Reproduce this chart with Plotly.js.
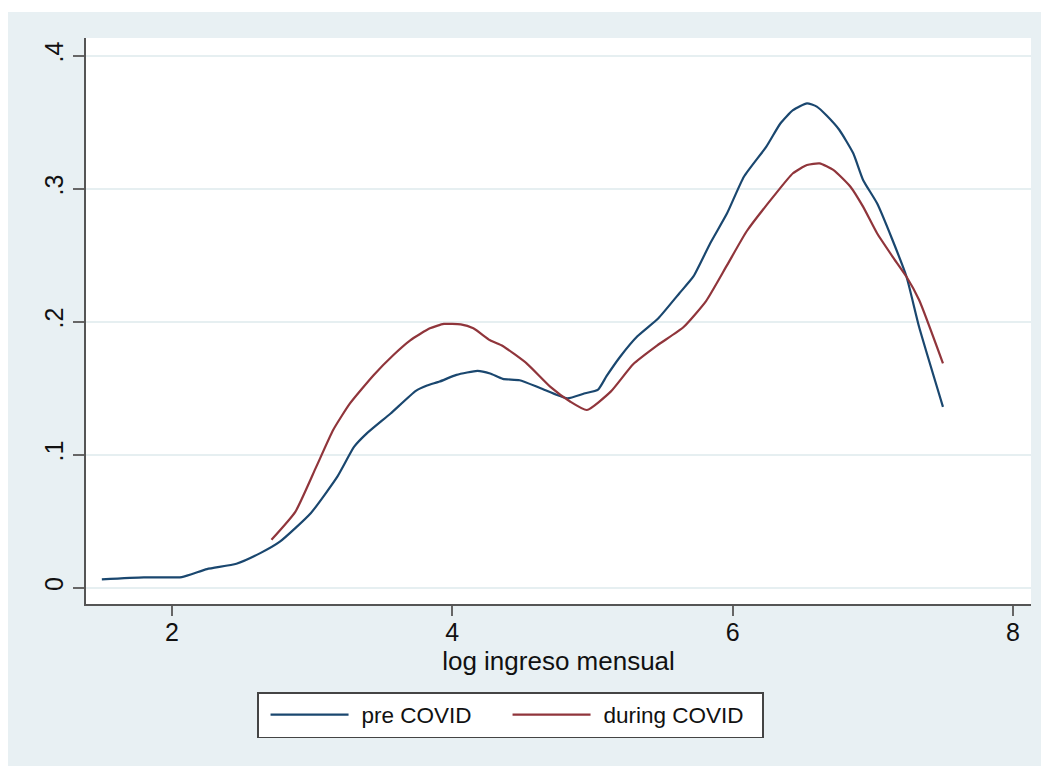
<!DOCTYPE html>
<html>
<head>
<meta charset="utf-8">
<script src="https://cdn.plot.ly/plotly-3.0.1.min.js"></script>
<style>
html,body{margin:0;padding:0;background:#ffffff;}
#wrap{position:absolute;left:8px;top:12px;width:1033px;height:754px;}
#chart{width:1033px;height:754px;}
</style>
</head>
<body>
<div id="wrap"><div id="chart"></div></div>
<script>
// pre COVID density
const preX = [1.50,1.80,2.07,2.25,2.46,2.63,2.77,2.99,3.18,3.30,3.39,3.56,3.74,3.82,3.91,4.03,4.18,4.27,4.36,4.48,4.63,4.82,4.94,5.04,5.10,5.20,5.32,5.47,5.62,5.72,5.84,5.96,6.08,6.24,6.34,6.43,6.53,6.60,6.67,6.76,6.86,6.93,7.03,7.14,7.24,7.33,7.50];
const preY = [0.0063,0.0078,0.0080,0.0140,0.0180,0.0260,0.0346,0.0560,0.0835,0.1060,0.1160,0.1310,0.1480,0.1520,0.1550,0.1600,0.1630,0.1610,0.1570,0.1560,0.1500,0.1424,0.1460,0.1490,0.1590,0.1740,0.1890,0.2026,0.2214,0.2340,0.2590,0.2815,0.3090,0.3316,0.3490,0.3590,0.3642,0.3617,0.3550,0.3443,0.3266,0.3066,0.2890,0.2614,0.2338,0.1960,0.1360];
// during COVID density
const durX = [2.71,2.88,3.03,3.15,3.27,3.44,3.58,3.70,3.84,3.94,4.06,4.15,4.27,4.36,4.53,4.70,4.84,4.96,5.13,5.29,5.46,5.65,5.81,5.96,6.10,6.29,6.43,6.53,6.62,6.72,6.84,6.93,7.03,7.14,7.24,7.33,7.50];
const durY = [0.0360,0.0570,0.0910,0.1186,0.1386,0.1600,0.1750,0.1860,0.1950,0.1983,0.1980,0.1950,0.1860,0.1817,0.1687,0.1510,0.1400,0.1336,0.1474,0.1680,0.1820,0.1960,0.2155,0.2425,0.2680,0.2940,0.3116,0.3178,0.3190,0.3140,0.3015,0.2865,0.2665,0.2490,0.2338,0.2163,0.1687];
const seriesNames = ["pre COVID","during COVID"];
const xTicks = [2,4,6,8];
const xTickText = ["2","4","6","8"];
const yTicks = [0,0.1,0.2,0.3,0.4];
const yTickText = ["0",".1",".2",".3",".4"];
const xTitle = "log ingreso mensual";

const FONT = "Liberation Sans, Arial, Helvetica, sans-serif";
const traces = [
  {x: preX, y: preY, name: seriesNames[0], type: "scatter", mode: "lines",
   line: {color: "#1a476f", width: 2.2, shape: "spline", smoothing: 0.5}},
  {x: durX, y: durY, name: seriesNames[1], type: "scatter", mode: "lines",
   line: {color: "#90353b", width: 2.2, shape: "spline", smoothing: 0.5}}
];
const layout = {
  width: 1033, height: 754,
  paper_bgcolor: "#e8f0f3",
  plot_bgcolor: "#ffffff",
  margin: {l: 78, r: 10, t: 26, b: 162},
  font: {family: FONT, color: "#111111"},
  showlegend: true,
  xaxis: {
    range: [1.387, 8.128],
    tickvals: xTicks, ticktext: xTickText,
    showgrid: false, zeroline: false,
    showline: true, linecolor: "#555555", linewidth: 2,
    ticks: "outside", ticklen: 10, tickwidth: 2, tickcolor: "#666666",
    ticklabelstandoff: -5,
    tickfont: {size: 25, family: FONT, color: "#111111"},
    title: {text: xTitle, font: {size: 26, family: FONT, color: "#111111"}, standoff: 4},
    automargin: false
  },
  yaxis: {
    range: [-0.01226, 0.4133],
    tickvals: yTicks, ticktext: yTickText,
    tickangle: -90,
    showgrid: true, gridcolor: "#e6eff1", gridwidth: 2,
    zeroline: false,
    showline: true, linecolor: "#555555", linewidth: 2,
    ticks: "outside", ticklen: 11, tickwidth: 2, tickcolor: "#666666",
    tickfont: {size: 25, family: FONT, color: "#111111"},
    automargin: false
  },
  legend: {
    orientation: "h",
    x: 0.181, xanchor: "left",
    y: -0.1555, yanchor: "top",
    bgcolor: "#ffffff",
    bordercolor: "#444444", borderwidth: 1.5,
    font: {size: 22.5, family: FONT, color: "#111111"},
    itemwidth: 93,
    entrywidth: 134,
    traceorder: "normal"
  }
};
Plotly.newPlot("chart", traces, layout, {displayModeBar: false, staticPlot: true}).then(function(gd){
  // Stata-style legend keys: long line keys, wider box
  gd.querySelectorAll('.legend .traces .legendlines path').forEach(function(p){
    p.setAttribute('d', 'M12,0h78');
  });
  var W = 505;
  var bg = gd.querySelector('.legend rect.bg');
  if (bg) bg.setAttribute('width', W);
  gd.querySelectorAll('clipPath[id^="legend"] rect').forEach(function(r){
    r.setAttribute('width', W);
  });
});
</script>
</body>
</html>
